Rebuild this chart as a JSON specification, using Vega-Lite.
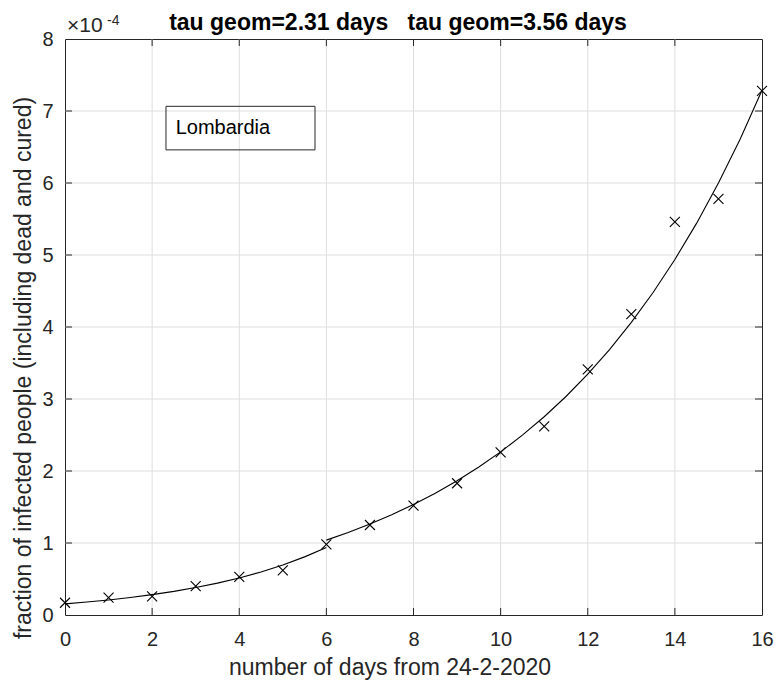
{
  "$schema": "https://vega.github.io/schema/vega-lite/v6.json",
  "width": 697,
  "height": 576,
  "autosize": {"type": "none"},
  "padding": {"left": 65, "top": 39, "right": 13, "bottom": 68},
  "background": "white",
  "title": {
    "text": "tau geom=2.31 days\u00a0\u00a0\u00a0tau geom=3.56 days",
    "fontSize": 23,
    "fontWeight": "bold",
    "color": "#000000",
    "baseline": "alphabetic",
    "dx": -15.5,
    "offset": -39
  },
  "datasets": {
    "pts": [
      {"t": 0, "f": 0.17}, {"t": 1, "f": 0.24}, {"t": 2, "f": 0.26}, {"t": 3, "f": 0.40},
      {"t": 4, "f": 0.53}, {"t": 5, "f": 0.62}, {"t": 6, "f": 0.98}, {"t": 7, "f": 1.25},
      {"t": 8, "f": 1.52}, {"t": 9, "f": 1.83}, {"t": 10, "f": 2.26}, {"t": 11, "f": 2.62},
      {"t": 12, "f": 3.41}, {"t": 13, "f": 4.18}, {"t": 14, "f": 5.46}, {"t": 15, "f": 5.78},
      {"t": 16, "f": 7.28}
    ],
    "fit1": [
      {"t": 0, "f": 0.155}, {"t": 0.5, "f": 0.1801}, {"t": 1, "f": 0.2092}, {"t": 1.5, "f": 0.2431},
      {"t": 2, "f": 0.2825}, {"t": 2.5, "f": 0.3282}, {"t": 3, "f": 0.3813}, {"t": 3.5, "f": 0.4430},
      {"t": 4, "f": 0.5147}, {"t": 4.5, "f": 0.5980}, {"t": 5, "f": 0.6948}, {"t": 5.5, "f": 0.8073},
      {"t": 6, "f": 0.9380}
    ],
    "fit2": [
      {"t": 6, "f": 1.04}, {"t": 6.5, "f": 1.1463}, {"t": 7, "f": 1.2636}, {"t": 7.5, "f": 1.3928},
      {"t": 8, "f": 1.5352}, {"t": 8.5, "f": 1.6921}, {"t": 9, "f": 1.8652}, {"t": 9.5, "f": 2.0559},
      {"t": 10, "f": 2.2661}, {"t": 10.5, "f": 2.4978}, {"t": 11, "f": 2.7532}, {"t": 11.5, "f": 3.0347},
      {"t": 12, "f": 3.3450}, {"t": 12.5, "f": 3.6870}, {"t": 13, "f": 4.0640}, {"t": 13.5, "f": 4.4796},
      {"t": 14, "f": 4.9376}, {"t": 14.5, "f": 5.4425}, {"t": 15, "f": 5.9990}, {"t": 15.5, "f": 6.6124},
      {"t": 16, "f": 7.2885}
    ],
    "xt": [{"v": 2}, {"v": 4}, {"v": 6}, {"v": 8}, {"v": 10}, {"v": 12}, {"v": 14}],
    "yt": [{"v": 1}, {"v": 2}, {"v": 3}, {"v": 4}, {"v": 5}, {"v": 6}, {"v": 7}],
    "one": [{"label": "Lombardia"}]
  },
  "layer": [
    {
      "data": {"name": "xt"},
      "mark": {"type": "rule", "color": "#dedede", "strokeWidth": 1},
      "encoding": {
        "x": {"field": "v", "type": "quantitative", "axis": null},
        "y": {"datum": 0, "type": "quantitative", "axis": null},
        "y2": {"datum": 8}
      }
    },
    {
      "data": {"name": "yt"},
      "mark": {"type": "rule", "color": "#dedede", "strokeWidth": 1},
      "encoding": {
        "y": {"field": "v", "type": "quantitative", "axis": null},
        "x": {"datum": 0, "type": "quantitative", "axis": null},
        "x2": {"datum": 16}
      }
    },
    {
      "data": {"name": "xt"},
      "mark": {"type": "rule", "color": "#262626", "strokeWidth": 1},
      "encoding": {
        "x": {"field": "v", "type": "quantitative", "axis": null},
        "y": {"datum": 0, "type": "quantitative", "axis": null},
        "y2": {"datum": 0.0972}
      }
    },
    {
      "data": {"name": "xt"},
      "mark": {"type": "rule", "color": "#262626", "strokeWidth": 1},
      "encoding": {
        "x": {"field": "v", "type": "quantitative", "axis": null},
        "y": {"datum": 8, "type": "quantitative", "axis": null},
        "y2": {"datum": 7.9028}
      }
    },
    {
      "data": {"name": "yt"},
      "mark": {"type": "rule", "color": "#262626", "strokeWidth": 1},
      "encoding": {
        "y": {"field": "v", "type": "quantitative", "axis": null},
        "x": {"datum": 0, "type": "quantitative", "axis": null},
        "x2": {"datum": 0.1607}
      }
    },
    {
      "data": {"name": "yt"},
      "mark": {"type": "rule", "color": "#262626", "strokeWidth": 1},
      "encoding": {
        "y": {"field": "v", "type": "quantitative", "axis": null},
        "x": {"datum": 16, "type": "quantitative", "axis": null},
        "x2": {"datum": 15.8393}
      }
    },
    {
      "data": {"name": "fit1"},
      "mark": {"type": "line", "color": "#000000", "strokeWidth": 1.1},
      "encoding": {
        "x": {
          "field": "t", "type": "quantitative",
          "scale": {"domain": [0, 16], "nice": false, "zero": false},
          "axis": {
            "orient": "bottom",
            "values": [0, 2, 4, 6, 8, 10, 12, 14, 16],
            "title": "number of days from 24-2-2020",
            "grid": false, "domain": false, "ticks": false,
            "labelColor": "#262626", "labelFontSize": 20, "labelPadding": 14, "labelFlush": false,
            "titleFontSize": 23, "titleFontWeight": "normal", "titleColor": "#262626",
            "titleBaseline": "alphabetic", "titleX": 324.5, "titleY": 59.3
          }
        },
        "y": {
          "field": "f", "type": "quantitative",
          "scale": {"domain": [0, 8], "nice": false, "zero": false},
          "axis": {
            "orient": "left",
            "values": [0, 1, 2, 3, 4, 5, 6, 7, 8],
            "title": "fraction of infected people (including dead and cured)",
            "grid": false, "domain": false, "ticks": false,
            "labelColor": "#262626", "labelFontSize": 20, "labelPadding": 12, "labelFlush": false,
            "titleFontSize": 23, "titleFontWeight": "normal", "titleColor": "#262626",
            "titleBaseline": "alphabetic", "titleX": -35, "titleY": 328.5
          }
        }
      }
    },
    {
      "data": {"name": "fit2"},
      "mark": {"type": "line", "color": "#000000", "strokeWidth": 1.1},
      "encoding": {
        "x": {"field": "t", "type": "quantitative", "axis": null},
        "y": {"field": "f", "type": "quantitative", "axis": null}
      }
    },
    {
      "data": {"name": "pts"},
      "mark": {"type": "point", "shape": "M-1,-1L1,1M-1,1L1,-1", "filled": false, "color": "#000000", "strokeWidth": 1.1, "size": 100, "opacity": 1},
      "encoding": {
        "x": {"field": "t", "type": "quantitative", "axis": null},
        "y": {"field": "f", "type": "quantitative", "axis": null}
      }
    },
    {
      "data": {"name": "one"},
      "mark": {"type": "rect", "fill": null, "fillOpacity": 0, "stroke": "#262626", "strokeWidth": 1},
      "encoding": {
        "x": {"datum": 2.318, "type": "quantitative", "axis": null},
        "x2": {"datum": 5.739},
        "y": {"datum": 7.065, "type": "quantitative", "axis": null},
        "y2": {"datum": 6.46}
      }
    },
    {
      "data": {"name": "one"},
      "mark": {"type": "text", "align": "left", "baseline": "alphabetic", "fontSize": 20, "color": "#000000"},
      "encoding": {
        "text": {"field": "label"},
        "x": {"datum": 2.54, "type": "quantitative", "axis": null},
        "y": {"datum": 6.676, "type": "quantitative", "axis": null}
      }
    },
    {
      "data": {"name": "one"},
      "mark": {"type": "text", "text": "\u00d710", "align": "left", "baseline": "alphabetic", "fontSize": 21, "color": "#262626", "dx": 2, "dy": -7},
      "encoding": {
        "x": {"datum": 0, "type": "quantitative", "axis": null},
        "y": {"datum": 8, "type": "quantitative", "axis": null}
      }
    },
    {
      "data": {"name": "one"},
      "mark": {"type": "text", "text": "-4", "align": "left", "baseline": "alphabetic", "fontSize": 14, "color": "#262626", "dx": 42, "dy": -14},
      "encoding": {
        "x": {"datum": 0, "type": "quantitative", "axis": null},
        "y": {"datum": 8, "type": "quantitative", "axis": null}
      }
    }
  ],
  "resolve": {"axis": {"x": "independent", "y": "independent"}},
  "config": {
    "view": {"stroke": "#262626", "strokeWidth": 1},
    "font": "Liberation Sans",
    "axis": {"labelFont": "Liberation Sans", "titleFont": "Liberation Sans"},
    "title": {"font": "Liberation Sans"},
    "text": {"font": "Liberation Sans"}
  }
}
